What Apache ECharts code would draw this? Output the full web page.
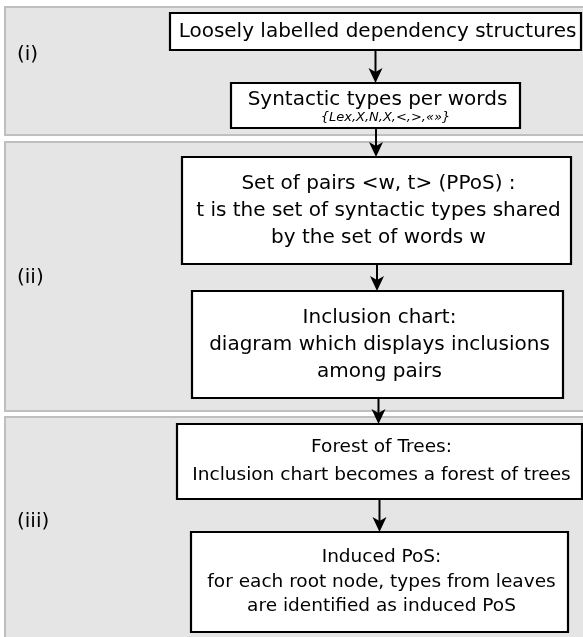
<!DOCTYPE html>
<html>
<head>
<meta charset="utf-8">
<script src="https://cdn.jsdelivr.net/npm/echarts@6/dist/echarts.min.js"></script>
<style>
  html, body { margin: 0; padding: 0; background: #fff; }
  #chart { width: 583px; height: 637px; }
</style>
</head>
<body>
<div id="chart"></div>
<script>
// stage panels: label and vertical extent [top, bottom]
const panelLabels = ['(i)', '(ii)', '(iii)'];
const panelSpans = [[7, 135], [142, 411], [417, 645]];
const panelLabelY = [55, 278, 522];

// flow steps: text lines and box extent [left, top, right, bottom]
const stepLines = [
    ['Loosely labelled dependency structures'],
    ['Syntactic types per words'],
    ['Set of pairs <w, t> (PPoS) :', 't is the set of syntactic types shared', 'by the set of words w'],
    ['Inclusion chart:', 'diagram which displays inclusions', 'among pairs'],
    ['Forest of Trees:', 'Inclusion chart becomes a forest of trees'],
    ['Induced PoS:', 'for each root node, types from leaves', 'are identified as induced PoS']
];
const stepNotes = ['', '{Lex,X,N,X,<,>,«»}', '', '', '', ''];
const stepBoxes = [
    [170, 13, 581, 50],
    [231, 83, 520, 128],
    [182, 157, 571, 264],
    [192, 291, 563, 398],
    [177, 424, 582, 499],
    [191, 532, 568, 632]
];

// text sizing per step
const stepFont = [20, 20, 20, 20, 18.5, 18.5];
const stepLineH = [22, 22, 27, 27, 28, 24.5];
const FONT = '"DejaVu Sans", sans-serif';

const chart = echarts.init(document.getElementById('chart'));

const arrows = [];
for (let i = 0; i < stepBoxes.length - 1; i++) {
    const a = stepBoxes[i], b = stepBoxes[i + 1];
    arrows.push([((a[0] + a[2]) / 2 + (b[0] + b[2]) / 2) / 2, a[3], b[1]]);
}

const option = {
    animation: false,
    backgroundColor: '#fff',
    grid: { left: 0, right: 0, top: 0, bottom: 0 },
    xAxis: { type: 'value', min: 0, max: 583, show: false },
    yAxis: { type: 'value', min: 0, max: 637, inverse: true, show: false },
    series: [
        {
            type: 'custom',
            name: 'panels',
            data: panelSpans.map((s, i) => [s[0], s[1], panelLabelY[i]]),
            renderItem: (params, api) => {
                const p0 = api.coord([5, api.value(0)]);
                const p1 = api.coord([590, api.value(1)]);
                const lp = api.coord([17, api.value(2)]);
                return {
                    type: 'group',
                    children: [{
                        type: 'rect',
                        shape: { x: p0[0], y: p0[1], width: p1[0] - p0[0], height: p1[1] - p0[1] },
                        style: { fill: '#e5e5e5', stroke: '#bfbfbf', lineWidth: 2 }
                    }, {
                        type: 'text',
                        style: {
                            text: panelLabels[params.dataIndex],
                            x: lp[0], y: lp[1],
                            align: 'left', verticalAlign: 'middle',
                            font: '20px ' + FONT, fill: '#000'
                        }
                    }]
                };
            }
        },
        {
            type: 'custom',
            name: 'arrows',
            z: 3,
            data: arrows,
            renderItem: (params, api) => {
                const top = api.coord([api.value(0), api.value(1)]);
                const tip = api.coord([api.value(0), api.value(2)]);
                const x = top[0];
                return {
                    type: 'group',
                    children: [{
                        type: 'line',
                        shape: { x1: x, y1: top[1], x2: x, y2: tip[1] - 9 },
                        style: { stroke: '#000', lineWidth: 2 }
                    }, {
                        type: 'polygon',
                        shape: { points: [[x, tip[1]], [x - 7, tip[1] - 15], [x, tip[1] - 11], [x + 7, tip[1] - 15]] },
                        style: { fill: '#000' }
                    }]
                };
            }
        },
        {
            type: 'custom',
            name: 'steps',
            z: 4,
            data: stepBoxes,
            renderItem: (params, api) => {
                const i = params.dataIndex;
                const p0 = api.coord([api.value(0), api.value(1)]);
                const p1 = api.coord([api.value(2), api.value(3)]);
                const cx = (p0[0] + p1[0]) / 2;
                const cy = (p0[1] + p1[1]) / 2;
                const lines = stepLines[i];
                const lh = stepLineH[i];
                const children = [{
                    type: 'rect',
                    shape: { x: p0[0], y: p0[1], width: p1[0] - p0[0], height: p1[1] - p0[1] },
                    style: { fill: '#fff', stroke: '#000', lineWidth: 2.2 }
                }];
                const note = stepNotes[i];
                const startY = note ? cy - 6 : cy - (lines.length - 1) * lh / 2;
                lines.forEach((t, k) => {
                    children.push({
                        type: 'text',
                        style: {
                            text: t, x: cx + 2, y: startY + k * lh,
                            align: 'center', verticalAlign: 'middle',
                            font: stepFont[i] + 'px ' + FONT, fill: '#000'
                        }
                    });
                });
                if (note) {
                    children.push({
                        type: 'text',
                        style: {
                            text: note, x: cx + 10, y: cy + 12,
                            align: 'center', verticalAlign: 'middle',
                            font: 'italic 13px ' + FONT, fill: '#000'
                        }
                    });
                }
                return { type: 'group', children: children };
            }
        }
    ]
};

chart.setOption(option);
</script>
</body>
</html>
